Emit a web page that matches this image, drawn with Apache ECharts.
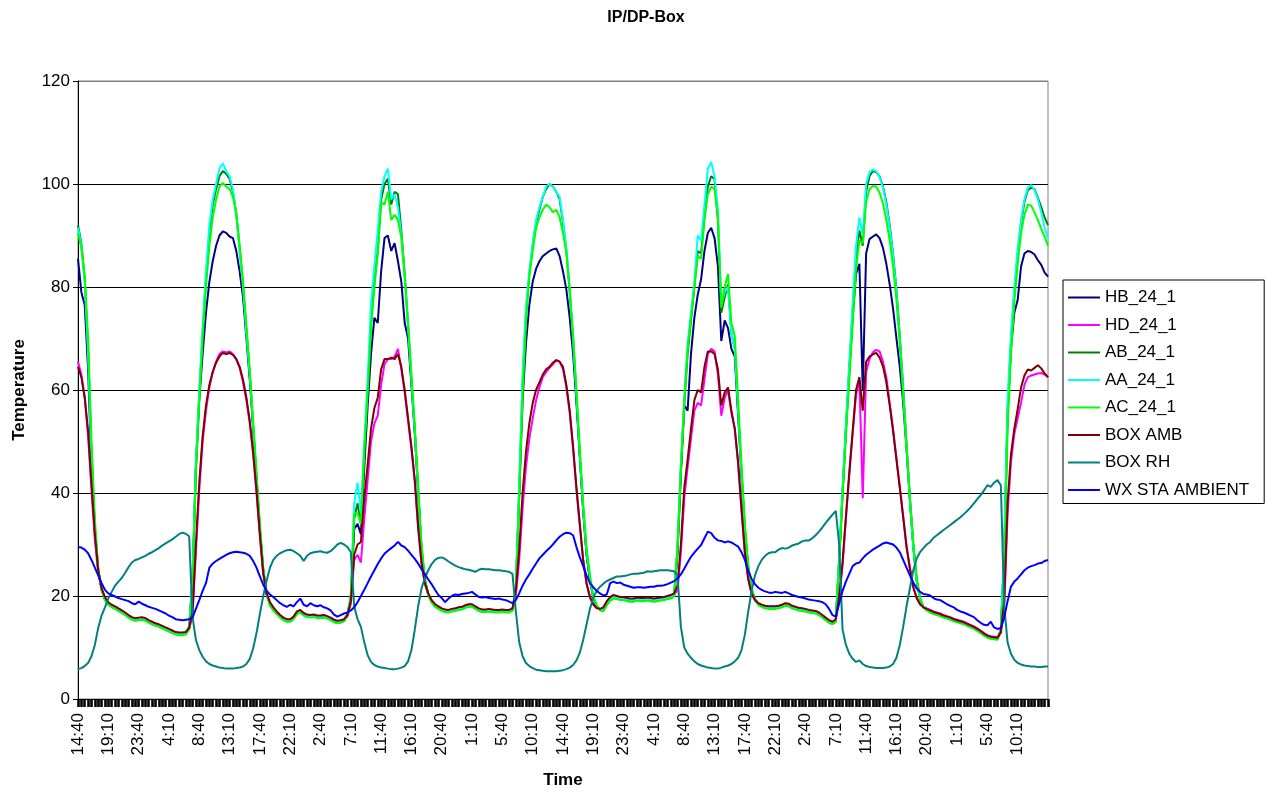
<!DOCTYPE html>
<html><head><meta charset="utf-8">
<script src="https://cdn.jsdelivr.net/npm/echarts@6/dist/echarts.min.js"></script>
<style>html,body{margin:0;padding:0;background:#fff}#c{width:1266px;height:794px}</style>
</head><body><div id="c"></div>
<script>
const startMinutes = 14 * 60 + 40;
const stepMinutes = 30;
const pointCount = 289;
const labelEvery = 9;
const categories = [];
for (let i = 0; i < pointCount; i++) {
  const m = (startMinutes + i * stepMinutes) % 1440;
  categories.push(Math.floor(m / 60) + ':' + String(m % 60).padStart(2, '0'));
}
const seriesNames = ['HB_24_1','HD_24_1','AB_24_1','AA_24_1','AC_24_1','BOX AMB','BOX RH','WX STA AMBIENT'];
const seriesColors = ['#000080','#FF00FF','#008000','#00FFFF','#00FF00','#800000','#008080','#0000FF'];

const HB_24_1 = [
85.5,79,76.5,64,45,33,25,21.4,19.5,18.6,
18.1,17.8,17.4,17,16.6,16.1,15.7,15.5,15.6,15.7,
15.5,15.1,14.8,14.5,14.3,14,13.7,13.4,13.1,12.8,
12.7,12.7,12.9,14,23,45,58,67,75,81,
85,88,90,90.8,90.5,89.8,89.5,87,83,78,
70,62,52.5,42.5,33,25,20.4,18.4,17.5,16.8,
16.1,15.6,15.3,15.3,15.8,16.8,17.1,16.5,16.2,16.1,
16.2,16,16,16.1,15.9,15.6,15.2,15,15.1,15.4,
16.4,19.5,33,34,32,45,57,67,74,73,
83,89.5,90,87,88.5,85,81,73,70,61,
51.5,40,29,23,20.3,18.9,18.1,17.7,17.3,17.1,
17,17.2,17.3,17.5,17.6,17.9,18.1,18.1,17.7,17.3,
17.1,17.1,17.2,17.1,17,17,17.1,17,17,17.3,
21.5,40,58,69,76.5,81,83.5,85,86,86.5,
87,87.3,87.5,86,83,79.5,74,67,57.5,47,
36.5,28,23,19.7,18.1,17.4,17.3,18.5,19.4,19.8,
19.7,19.5,19.5,19.3,19.2,19.2,19.4,19.3,19.3,19.4,
19.3,19.2,19.3,19.4,19.5,19.7,19.8,20.2,29,44,
57,56,67,74,78.5,81.5,87,90.5,91.5,89.5,
84,69.5,73.5,72,68,66.5,55,43.5,32.5,25.3,
21.2,19.5,18.5,18.1,17.8,17.7,17.7,17.7,17.8,18,
18.3,18.2,17.8,17.6,17.4,17.3,17.2,17,16.9,16.8,
16.5,16,15.5,15,14.7,15.3,27,40,52.5,63.5,
74,82.5,84.5,60,86.5,89.3,89.8,90.2,89.5,87.6,
84.5,80.5,75.8,70,64.5,57.5,48.5,38.5,29.5,23,
19.5,17.9,17.4,17,16.7,16.5,16.3,16,15.8,15.6,
15.3,15.1,14.9,14.7,14.4,14.1,13.8,13.4,13,12.5,
12.1,11.9,11.8,11.7,13.5,28,55,68,75,77.5,
84,86.5,87,86.8,86.3,85.2,84.3,82.8,82
];
const HD_24_1 = [
65.5,63,58.5,51,40.5,31,24.5,21.2,19.6,18.7,
18.2,17.9,17.5,17.1,16.7,16.2,15.8,15.6,15.7,15.8,
15.6,15.2,14.9,14.6,14.4,14.1,13.8,13.5,13.2,12.9,
12.8,12.8,12.9,13.6,16,28.5,40.5,50,56,60.5,
63.5,65.5,67,67.5,67.3,67.5,67,66,64.3,61.5,
58,53.5,47.5,40,31.5,24.2,20.3,18.7,17.7,16.9,
16.2,15.7,15.4,15.4,15.9,16.9,17.2,16.6,16.3,16.2,
16.3,16.1,16.1,16.2,16,15.7,15.3,15.1,15.2,15.4,
16,18.5,27,28,26.5,35,42.5,50,53.5,55,
61,65,66,66,66.5,68,64,59.5,54,48.5,
42,33,26.2,22.3,20.4,19.1,18.3,17.9,17.5,17.3,
17.2,17.4,17.5,17.7,17.8,18.1,18.3,18.3,17.9,17.5,
17.3,17.3,17.4,17.3,17.2,17.2,17.3,17.2,17.2,17.5,
20,27,37,45,50.5,54.5,58,60.5,62.5,63.5,
64.3,65,65.8,65.5,64,60.5,55.5,48.5,40.5,33.5,
26.8,22.3,19.7,18.3,17.6,17.4,17.7,18.9,19.7,20.1,
19.9,19.7,19.7,19.5,19.4,19.4,19.6,19.5,19.5,19.6,
19.5,19.4,19.5,19.6,19.7,19.9,20.1,20.4,21,28.5,
39,45,50.5,56,57.5,57,62,67,68,67.5,
63,55,58.5,60,55.5,52.5,45.5,36.5,28.2,23.2,
20.4,19.1,18.5,18.2,18,17.9,17.9,17.9,18,18.2,
18.5,18.4,18,17.8,17.6,17.5,17.4,17.2,17.1,17,
16.7,16.2,15.7,15.2,14.9,15.4,19.5,26,35,43.5,
51.5,59,62,39,63.5,66,67.3,67.8,67.5,65.5,
62.5,57.5,52.5,46.8,41.2,35.5,29.7,25.5,21.8,19.7,
18.5,17.9,17.6,17.3,17,16.8,16.6,16.3,16.1,15.9,
15.6,15.4,15.2,15,14.7,14.4,14.1,13.7,13.3,12.8,
12.4,12.2,12.1,12,12.8,17.5,36,46,51.5,54.5,
57.5,61,62.5,62.8,63,63.2,63.3,63,62.5
];
const AB_24_1 = [
92,88.5,81.5,68,48,33.5,25,21.3,19.3,18.4,
17.9,17.6,17.2,16.8,16.4,15.9,15.5,15.3,15.4,15.5,
15.3,14.9,14.6,14.3,14.1,13.8,13.5,13.2,12.9,12.6,
12.5,12.5,12.7,13.8,23,45,59,71,82,90.5,
96,99,101.5,102.5,102,101,98.5,94,87.5,80.5,
71.5,63,53,43,33,25,20.3,18.2,17.3,16.6,
15.9,15.4,15.1,15.1,15.6,16.6,16.9,16.3,16,15.9,
16,15.8,15.8,15.9,15.7,15.4,15,14.8,14.9,15.2,
16.3,19.5,35,38,34,48,60,73,81,87,
97,100,101,96,98.5,98,91,82.5,72.5,62,
52,40.5,29,23,20.2,18.8,18,17.6,17.2,17,
16.9,17.1,17.2,17.4,17.5,17.8,18,18,17.6,17.2,
17,17,17.1,17,16.9,16.9,17,16.9,16.9,17.2,
21.5,40,61.5,75,82.5,88,92.5,95,97.5,99,
100,99.5,98.5,97,92.5,87,79,69.5,58.5,47,
36.5,28,23.2,19.6,18,17.3,17.2,18.3,19.2,19.6,
19.5,19.3,19.3,19.1,19,19,19.2,19.1,19.1,19.2,
19.1,19,19.1,19.2,19.3,19.5,19.6,20,28,44,
57,67,73.5,80,87,86.5,94,99.5,101.5,101,
93,75,78,80.5,71,68,56,44,33,25.5,
21.2,19.4,18.4,18,17.7,17.6,17.6,17.6,17.7,17.9,
18.2,18.1,17.7,17.5,17.3,17.2,17.1,16.9,16.8,16.7,
16.4,15.9,15.4,14.9,14.6,15,27,40,52.5,64,
75.5,86,91,88,98.5,101.5,102.5,102.3,101.5,99.5,
96.5,92,86.5,79.5,70.5,60.5,49.5,39,30,23.2,
19.6,17.8,17.3,16.9,16.6,16.4,16.2,15.9,15.7,15.5,
15.2,15,14.8,14.6,14.3,14,13.7,13.3,12.9,12.4,
12,11.8,11.7,11.6,13.3,28,56.5,69.5,79,86.5,
92.5,96.5,98.8,99.3,99,97.3,95.5,93.5,92
];
const AA_24_1 = [
91.5,88,81,67,47,33,25,21.5,19.5,18.6,
18.1,17.7,17.3,16.9,16.5,16,15.6,15.4,15.5,15.6,
15.4,15,14.7,14.4,14.2,13.9,13.6,13.3,13,12.7,
12.6,12.6,12.8,14,24,46,60,72,83,92,
97,100,103,104,102.5,101.5,99,94,87,80,
71,63,53,43,33,25,20.5,18.4,17.5,16.7,
16,15.5,15.2,15.2,15.7,16.7,17,16.4,16.1,16,
16.1,15.9,15.9,16,15.8,15.5,15.1,14.9,15,15.3,
16.5,20,38,42,36,50,62,77,84,91,
98.5,101.5,103,97,98,95.5,90,82,72.5,62,
52,40.5,29,23,20.3,18.9,18.1,17.7,17.3,17.1,
17,17.2,17.3,17.5,17.6,17.9,18.1,18.1,17.7,17.3,
17.1,17.1,17.2,17.1,17,17,17.1,17,17,17.3,
22,42,63,76,83,88.5,93,95.5,97.5,99.5,
100,99.5,98.5,97.5,93,87.5,79.5,70,59,47.5,
37,28.5,23.5,19.8,18.2,17.4,17.3,18.5,19.4,19.8,
19.7,19.5,19.5,19.3,19.2,19.2,19.4,19.3,19.3,19.4,
19.3,19.2,19.3,19.4,19.5,19.7,19.8,20.2,30,46,
58,69,75,81,90,89,96,103,104.3,101.5,
95,76.5,79,80,71,68,56,44,33,25.5,
21.3,19.5,18.5,18.1,17.8,17.7,17.7,17.7,17.8,18,
18.3,18.2,17.8,17.6,17.4,17.3,17.2,17,16.9,16.8,
16.5,16,15.5,15,14.7,15.2,28,41,53.5,65,
77,88,93.5,90,100,102.3,102.8,102.5,101.3,99.3,
96,91.5,86,79,70,60,49,38.5,29.5,23,
19.5,17.9,17.4,17,16.7,16.5,16.3,16,15.8,15.6,
15.3,15.1,14.9,14.7,14.4,14.1,13.8,13.4,13,12.5,
12.1,11.9,11.8,11.7,13.5,30,58,70.5,80,87.5,
93,97,99.3,99.8,98.8,97,94.5,91.5,89.5
];
const AC_24_1 = [
90.5,87.5,82,70,50,35,25.5,21.3,19.2,18.3,
17.8,17.5,17.1,16.7,16.3,15.8,15.4,15.2,15.3,15.4,
15.2,14.8,14.5,14.2,14,13.7,13.4,13.1,12.8,12.5,
12.4,12.4,12.5,13.5,22,44,58,70,80,88,
93.5,97,99.5,100.2,99.5,99,97.5,94.5,88,81,
72.5,64,54,44,34,25.5,20.5,18.1,17.2,16.5,
15.8,15.3,15,15,15.5,16.5,16.8,16.2,15.9,15.8,
15.9,15.7,15.7,15.8,15.6,15.3,14.9,14.7,14.8,15.1,
16.3,20,36,36,34,48,59.5,72,80,86.5,
96.5,96,98.5,93,94,93,89.5,82,73,63,
53,41.5,30,23.5,20.2,18.7,17.9,17.5,17.1,16.9,
16.8,17,17.1,17.3,17.4,17.7,17.9,17.9,17.5,17.1,
16.9,16.9,17,16.9,16.8,16.8,16.9,16.8,16.8,17.1,
21,39,59,73,82,87,91.5,93.5,95,96,
95.5,94.5,95,93.5,90.5,86.5,79.5,70.5,60,48.5,
38,29.5,24,20,18.1,17.2,17.1,18.2,19.1,19.5,
19.4,19.2,19.2,19,18.9,18.9,19.1,19,19,19.1,
19,18.9,19,19.1,19.2,19.4,19.5,19.9,30,45,
58,68,74,80,86,85.5,93,98,99.5,99,
93.5,76,80,82.5,73,70.5,58,45.5,34,26,
21.3,19.3,18.2,17.9,17.6,17.5,17.5,17.5,17.6,17.8,
18.1,18,17.6,17.4,17.2,17.1,17,16.8,16.7,16.6,
16.3,15.8,15.3,14.8,14.5,15,26.5,39.5,51,62,
73,83.5,89,88.5,96.5,99,99.6,99.5,98.3,96.2,
93,89,84,77.5,69,59,49,39,30.5,23.5,
19.8,17.7,17.2,16.8,16.5,16.3,16.1,15.8,15.6,15.4,
15.1,14.9,14.7,14.5,14.2,13.9,13.6,13.2,12.8,12.3,
11.9,11.7,11.6,11.5,13.2,24,53,67,77,84.5,
90.5,94,96,95.8,94.5,93,91.3,89.8,88
];
const BOX_AMB = [
64.5,62.5,58.5,52,42,32,25,21.5,19.8,18.8,
18.3,18,17.6,17.2,16.8,16.3,15.9,15.7,15.8,15.9,
15.7,15.3,15,14.7,14.5,14.2,13.9,13.6,13.3,13,
12.9,12.9,13,13.8,17,30,42,51,57,61,
63.5,65.3,66.5,67.2,67,67.2,66.8,66,64.5,62,
58.5,54,48,40.5,32,24.5,20.5,18.8,17.8,17,
16.3,15.8,15.5,15.5,16,17,17.3,16.7,16.4,16.3,
16.4,16.2,16.2,16.3,16.1,15.8,15.4,15.2,15.3,15.5,
16.3,19,28,30,30.5,39,45.5,52.5,56.5,58.5,
64,66,66,66.3,66,67,64.5,60,54.5,49,
42.5,33.5,26.5,22.5,20.5,19.2,18.4,18,17.6,17.4,
17.3,17.5,17.6,17.8,17.9,18.2,18.4,18.4,18,17.6,
17.4,17.4,17.5,17.4,17.3,17.3,17.4,17.3,17.3,17.6,
21,29,40,48,53.5,57.5,60,61.5,63,64,
64.5,65.3,65.8,65.5,64.5,61,56,49,41,34,
27,22.5,19.8,18.4,17.7,17.5,17.8,19,19.8,20.2,
20,19.8,19.8,19.6,19.5,19.5,19.7,19.6,19.6,19.7,
19.6,19.5,19.6,19.7,19.8,20,20.2,20.5,22,30,
41,46.5,52.5,58,60,59.5,64.5,67.5,67.5,67,
64,57,59.5,60.5,56,52.5,46,37,28.5,23.3,
20.5,19.2,18.6,18.3,18.1,18,18,18,18.1,18.3,
18.6,18.5,18.1,17.9,17.7,17.6,17.5,17.3,17.2,17.1,
16.8,16.3,15.8,15.3,15,15.5,20,26.5,35.5,44,
52,60,62.5,56,65.5,66.5,66.9,67.2,66.3,64.6,
61.5,57,52,46.5,41,35.3,29.5,25.3,21.7,19.6,
18.4,17.8,17.5,17.2,16.9,16.7,16.5,16.2,16,15.8,
15.5,15.3,15.1,14.9,14.6,14.3,14,13.6,13.2,12.7,
12.3,12.1,12,11.9,13,19,38,47.5,52.5,56.3,
60.5,62.8,64,63.8,64.3,64.8,64.2,63.2,62.5
];
const BOX_RH = [
5.8,6,6.4,7,8.3,10.5,13.8,16.2,17.8,19.5,
20.8,22,22.8,23.5,24.5,25.6,26.5,27,27.2,27.5,
27.8,28.2,28.5,28.9,29.3,29.8,30.2,30.6,31,31.5,
32,32.3,32.1,31.6,16,11.5,9.5,8.2,7.3,6.8,
6.5,6.3,6.1,6,5.9,5.9,5.9,6,6.1,6.3,
6.8,7.8,9.8,12.8,16.5,20,23,25.5,27,27.8,
28.3,28.6,28.9,29,28.7,28.3,27.8,26.8,27.8,28.3,
28.5,28.6,28.7,28.5,28.4,28.7,29.3,30,30.3,30,
29.5,28.5,18,15.5,14,11,8.5,7.2,6.6,6.3,
6.1,6,5.9,5.8,5.8,5.9,6.1,6.4,7.3,9.5,
13.5,18,21.5,23.5,25,26.2,27,27.4,27.5,27.2,
26.7,26.3,25.9,25.6,25.4,25.2,25.1,24.9,24.7,25.1,
25.3,25.2,25.2,25.1,25,25,24.9,24.8,24.7,24.3,
17,11,8.3,7,6.4,6,5.7,5.6,5.5,5.4,
5.4,5.4,5.4,5.5,5.6,5.8,6.1,6.6,7.5,9,
11.5,14.5,17.5,19.7,21,21.8,22.4,22.9,23.2,23.5,
23.8,23.8,23.9,24,24.2,24.3,24.3,24.4,24.5,24.8,
24.7,24.8,24.9,25,25,25,24.9,24.8,24,14,
10,8.8,8,7.3,6.8,6.5,6.3,6.1,6,5.9,
5.9,6.1,6.3,6.5,6.8,7.3,8,9.5,12.5,17,
21,24,25.8,27,27.8,28.3,28.5,28.5,29,29.3,
29.2,29.4,29.8,30,30.2,30.6,30.8,30.8,31.2,31.8,
32.5,33.3,34.2,35,35.8,36.5,30,13.5,10.5,8.8,
7.8,7.2,7.5,6.8,6.4,6.2,6.1,6,6,6,
6.1,6.3,6.8,8,10.5,14,18,21.5,25,27.3,
28.5,29.3,30,30.5,31.3,31.8,32.3,32.8,33.3,33.8,
34.3,34.8,35.3,35.9,36.5,37.2,38,38.8,39.6,40.5,
41.5,41.2,42,42.5,41.5,18,11,8.8,7.6,7,
6.7,6.5,6.4,6.3,6.3,6.2,6.2,6.3,6.3
];
const WX_STA_AMBIENT = [
29.5,29.4,29,28.3,27,25.5,24,22.5,21.2,20.5,
20.2,19.9,19.6,19.4,19.2,19,18.6,18.4,18.9,18.5,
18.2,17.9,17.7,17.5,17.2,16.9,16.6,16.2,15.9,15.5,
15.4,15.3,15.4,15.5,15.8,17.5,19.2,21,22.5,25.5,
26.3,26.8,27.2,27.6,28,28.3,28.5,28.6,28.5,28.4,
28.2,27.8,26.8,25.5,23.8,22.2,21,20.3,19.8,19.2,
18.6,18.2,17.9,18.3,18,18.8,19.5,18.3,18,18.6,
18.2,18,18.2,17.8,17.6,17.2,16.4,16,16.3,16.6,
16.8,17.2,17.8,18.8,20,21.2,22.5,23.8,25,26.2,
27.3,28.2,28.8,29.3,29.8,30.5,29.8,29.5,28.8,28,
27.2,26.3,25.2,24.2,23.2,22.3,21.2,20.2,19.6,18.8,
19.5,20,20.3,20.2,20.4,20.5,20.6,20.8,20.3,19.8,
19.7,19.8,19.6,19.5,19.4,19.5,19.3,19.2,18.9,18.6,
19.2,20.5,22,23.2,24.2,25.3,26.3,27.3,28,28.7,
29.3,30,30.8,31.5,32,32.3,32.2,31.8,29.5,27.5,
25.8,24,22.5,21.7,21,20.5,20.1,20.3,22.5,22.8,
22.5,22.6,22.2,22,21.8,21.6,21.7,21.7,21.6,21.7,
21.8,21.8,22,22,22.1,22.3,22.6,22.9,23.4,24.2,
25.3,26.5,27.6,28.4,29.2,29.9,31.2,32.5,32.2,31.3,
30.8,30.7,30.4,30.6,30.4,30,29.6,28.5,27,25,
23.3,22.3,21.6,21.2,20.9,20.7,20.6,20.8,20.7,20.6,
20.8,20.5,20.2,20,19.8,19.7,19.5,19.3,19.2,19.1,
19,18.8,18.4,17.5,16.3,16,18.5,21,22.8,24.3,
25.8,26.3,26.5,27.3,28,28.5,29,29.4,29.8,30.2,
30.4,30.2,30,29.4,28.5,27,25.5,24,22.6,21.5,
20.8,20.4,20.3,20.1,19.6,19.3,19.2,18.8,18.4,18.1,
17.8,17.3,17,16.8,16.5,16.2,15.9,15.3,14.8,14.4,
14.3,15,13.9,13.6,13.8,15.8,19,21.8,22.8,23.4,
24.2,25,25.5,25.8,26,26.3,26.4,26.8,27
];
const yTicks = [0, 20, 40, 60, 80, 100, 120];

const seriesData = [HB_24_1, HD_24_1, AB_24_1, AA_24_1, AC_24_1, BOX_AMB, BOX_RH, WX_STA_AMBIENT];
const FONT = '"Liberation Sans", Arial, sans-serif';
const chart = echarts.init(document.getElementById('c'), null, {renderer: 'canvas'});
chart.setOption({
  animation: false,
  backgroundColor: '#ffffff',
  textStyle: {fontFamily: FONT, color: '#000'},
  title: {
    text: 'IP/DP-Box', left: 641, top: 5, textAlign: 'center',
    textStyle: {fontFamily: FONT, fontSize: 16, fontWeight: 'bold', color: '#000'}
  },
  grid: {left: 78, right: 218, top: 81, bottom: 90, show: true, borderColor: '#808080', borderWidth: 1, backgroundColor: 'transparent'},
  legend: {
    orient: 'vertical', left: 1063, top: 280,
    backgroundColor: '#fff', borderColor: '#000', borderWidth: 1,
    padding: [9, 15, 5, 5],
    itemWidth: 32, itemHeight: 2, itemGap: 10.5, icon: 'rect',
    textStyle: {fontFamily: FONT, fontSize: 17, color: '#000', lineHeight: 17},
    data: seriesNames
  },
  xAxis: {
    type: 'category', data: categories, boundaryGap: false,
    axisLine: {lineStyle: {color: '#000', width: 1}},
    axisTick: {interval: 0, length: 8, lineStyle: {color: '#000', width: 2.6}},
    axisLabel: {
      interval: (idx) => idx % labelEvery === 0 && idx < pointCount - 1,
      rotate: 90, fontSize: 17, color: '#000', margin: 14, fontFamily: FONT
    },
    splitLine: {show: false},
    name: 'Time', nameLocation: 'middle', nameGap: 73,
    nameTextStyle: {fontFamily: FONT, fontWeight: 'bold', fontSize: 17, color: '#000'}
  },
  yAxis: {
    type: 'value', min: yTicks[0], max: yTicks[yTicks.length - 1], interval: 20,
    axisLine: {show: true, lineStyle: {color: '#000', width: 1}},
    axisTick: {show: true, length: 5, lineStyle: {color: '#000'}},
    axisLabel: {fontSize: 17, color: '#000', margin: 8, fontFamily: FONT},
    splitLine: {show: true, lineStyle: {color: ['#000','#000','#000','#000','#000','#000','#808080'], width: 1}},
    name: 'Temperature', nameLocation: 'middle', nameGap: 50, nameRotate: 90,
    nameTextStyle: {fontFamily: FONT, fontWeight: 'bold', fontSize: 17, color: '#000'}
  },
  series: seriesNames.map((n, k) => ({
    name: n, type: 'line', data: seriesData[k],
    symbol: 'none', showSymbol: false,
    lineStyle: {width: 2, color: seriesColors[k]},
    itemStyle: {color: seriesColors[k]},
    emphasis: {disabled: true},
    z: 2 + k * 0.01
  }))
});
</script>
</body></html>
